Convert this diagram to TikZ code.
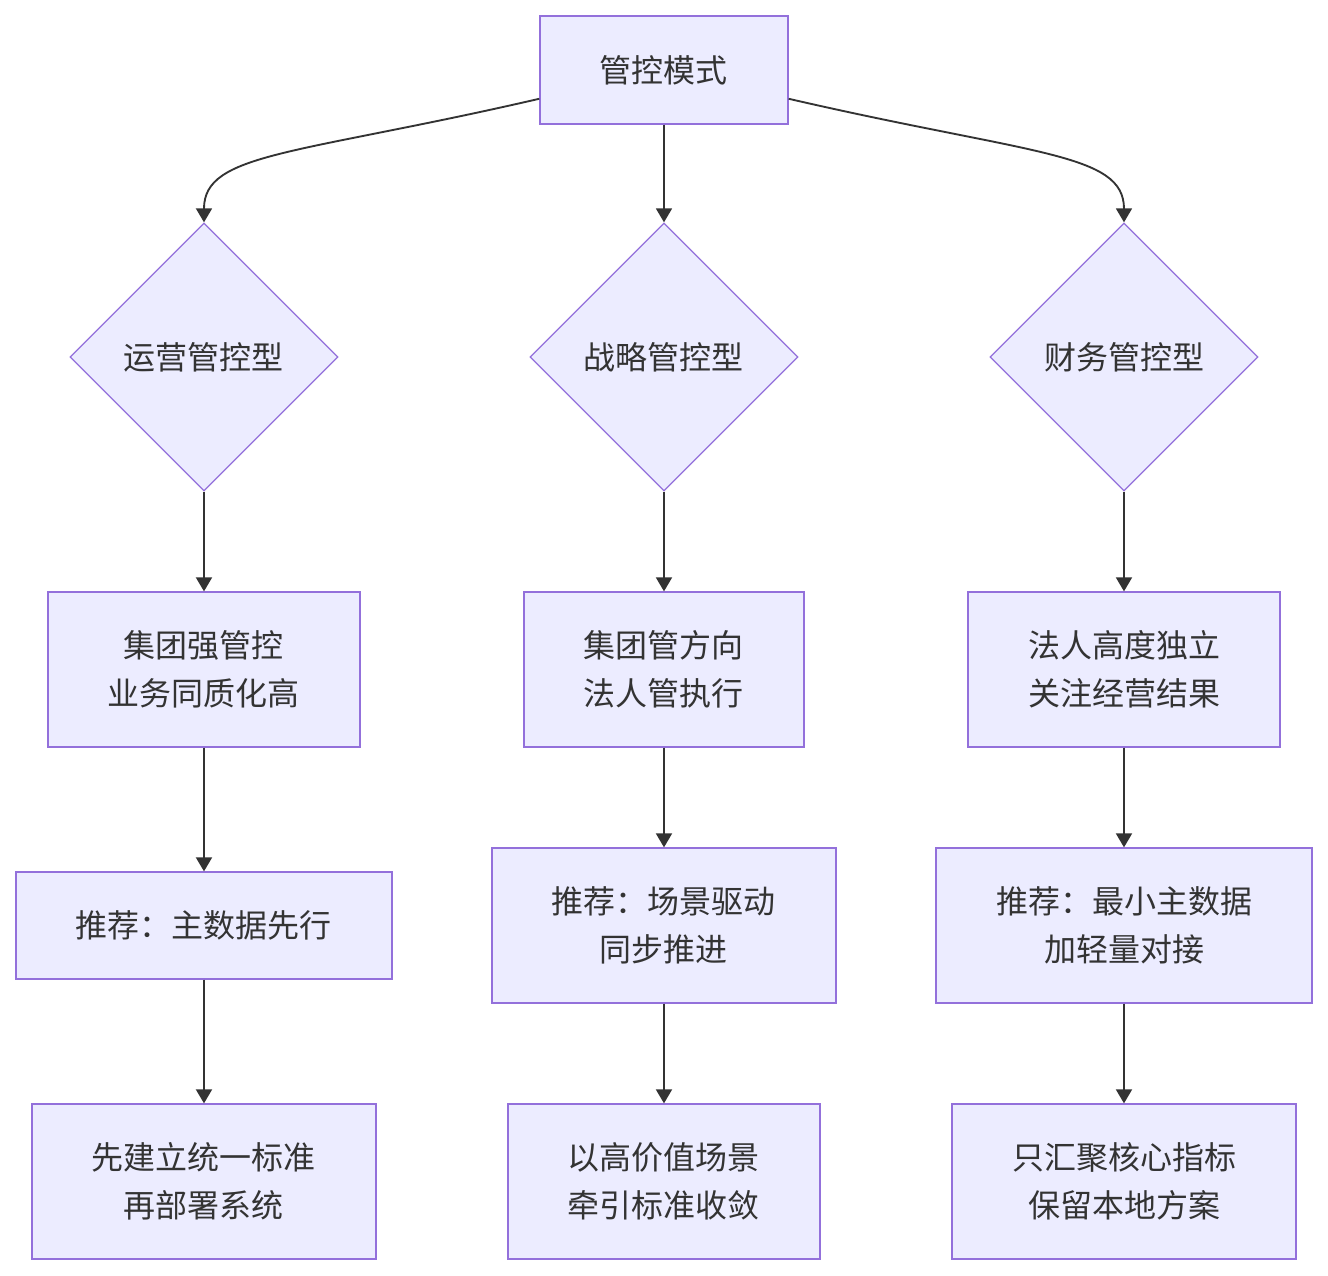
\documentclass[tikz,border=0pt]{standalone}
\usepackage{fontspec}
\newfontfamily\cjk{Noto Sans CJK SC}
\usepackage{xcolor}
\usetikzlibrary{arrows.meta,positioning,shapes.geometric}
\definecolor{nodefill}{HTML}{ECECFF}
\definecolor{nodeline}{HTML}{9370DB}
\definecolor{ink}{HTML}{333333}

\begin{document}
\begin{tikzpicture}[on grid, node distance=192pt,
      every node/.style={font=\cjk\fontsize{24}{36}\selectfont, text=ink},
      box/.style={draw=nodeline, fill=nodefill, line width=1pt, rectangle,
        minimum height=116.25pt, align=center, inner sep=0pt},
      choice/.style={draw=nodeline, fill=nodefill, line width=1pt, diamond,
        minimum width=201pt, minimum height=201pt, inner sep=0pt},
      link/.style={draw=ink, line width=1.4pt,
        -{Triangle[length=10.5pt,width=12pt]}}]
      \useasboundingbox (-498pt,52.5pt) rectangle (498pt,-904.5pt);
      \fill[white] (-498pt,52.5pt) rectangle (498pt,-904.5pt);

      \node[box, minimum width=186pt, minimum height=81pt] (mode) {管控模式};

      \node[choice, below=215.25pt of mode] (strat) {战略管控型};
      \node[choice, left=345pt of strat] (oper) {运营管控型};
      \node[choice, right=345pt of strat] (fin) {财务管控型};

      \node[box, minimum width=234pt, below=234.4pt of oper] (operA) {集团强管控\\业务同质化高};
      \node[box, minimum width=210pt, below=234.4pt of strat] (stratA) {集团管方向\\法人管执行};
      \node[box, minimum width=234pt, below=234.4pt of fin] (finA) {法人高度独立\\关注经营结果};

      \node[box, minimum width=282pt, minimum height=80.25pt, below=of operA] (operB) {推荐：主数据先行};
      \node[box, minimum width=258pt, below=of stratA] (stratB) {推荐：场景驱动\\同步推进};
      \node[box, minimum width=282pt, below=of finA] (finB) {推荐：最小主数据\\加轻量对接};

      \node[box, minimum width=258pt, below=of operB] (operC) {先建立统一标准\\再部署系统};
      \node[box, minimum width=234pt, below=of stratB] (stratC) {以高价值场景\\牵引标准收敛};
      \node[box, minimum width=258pt, below=of finB] (finC) {只汇聚核心指标\\保留本地方案};

      \path[link]
        (mode.193) .. controls +(193:187.5pt) and +(90:52.5pt) .. (oper.north);
      \path[link]
        (mode.-13) .. controls +(-13:187.5pt) and +(90:52.5pt) .. (fin.north);
      \foreach \a/\b in {mode/strat, oper/operA, strat/stratA, fin/finA,
          operA/operB, stratA/stratB, finA/finB,
          operB/operC, stratB/stratC, finB/finC}
        \draw[link] (\a) -- (\b);
    \end{tikzpicture}
\end{document}
